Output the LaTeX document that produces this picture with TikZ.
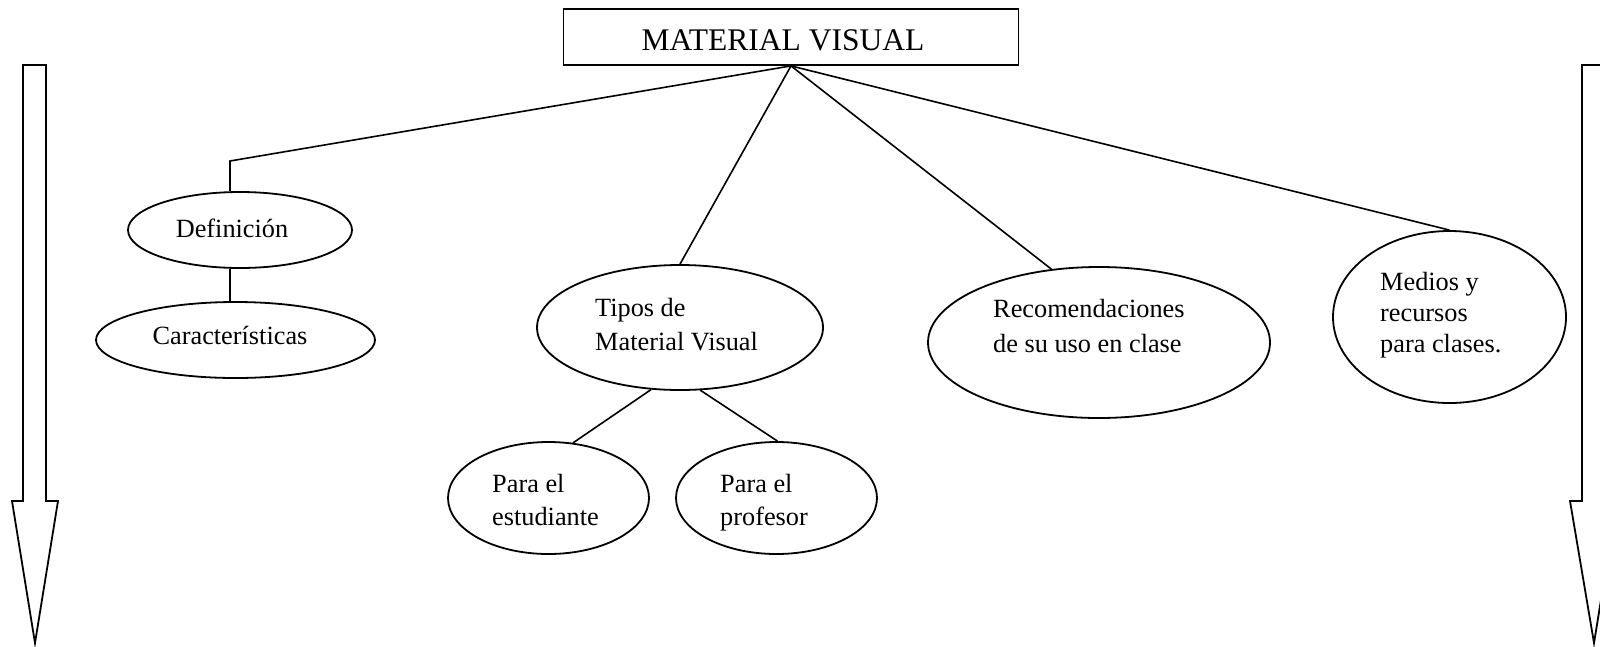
\documentclass[tikz,border=0pt]{standalone}
\usepackage{fontspec}
\setmainfont{Liberation Serif}
\usetikzlibrary{shapes.geometric}
\begin{document}
\begin{tikzpicture}[x=1pt,y=-1pt,
  lw/.style={line width=1.8pt},
  oval/.style={draw,ellipse,line width=1.8pt,inner sep=0pt},
  txt/.style={inner sep=0pt,align=left,font=\fontsize{26.3}{33}\selectfont},
  conn/.style={line width=1.6pt}]
\useasboundingbox (0,0) rectangle (1600,646);
\clip (0,0) rectangle (1600,646);
% title
\node[draw,lw,minimum width=455pt,minimum height=56pt,inner sep=0pt] (title) at (791,37) {};
\node[anchor=base,inner sep=0pt,font=\fontsize{31.5}{36}\selectfont] (ttitle) at (783,50) {MATERIAL VISUAL};
% ellipses
\node[oval,minimum width=224pt,minimum height=76pt] (def) at (240,230) {};
\node[oval,minimum width=279pt,minimum height=76pt] (car) at (235.5,340) {};
\node[oval,minimum width=286pt,minimum height=125pt] (tipos) at (680,327.5) {};
\node[oval,minimum width=201pt,minimum height=112pt] (est) at (548.5,498) {};
\node[oval,minimum width=201pt,minimum height=112pt] (prof) at (776.5,498) {};
\node[oval,minimum width=342pt,minimum height=151pt] (reco) at (1099,342.5) {};
\node[oval,minimum width=233pt,minimum height=172pt] (med) at (1449.5,317) {};
% texts (base anchor = baseline of last line)
\node[txt,anchor=base] (tdef) at (232,237) {Definición};
\node[txt,anchor=base] (tcar) at (230,344) {Características};
\node[txt,anchor=base west,font=\fontsize{26.3}{34}\selectfont] (ttip) at (595,350) {Tipos de\\Material Visual};
\node[txt,anchor=base west] (test) at (492,525) {Para el\\estudiante};
\node[txt,anchor=base west] (tprof) at (720,525) {Para el\\profesor};
\node[txt,anchor=base west,font=\fontsize{26.3}{35}\selectfont] (treco) at (993,352) {Recomendaciones\\de su uso en clase};
\node[txt,anchor=base west,font=\fontsize{26.3}{31}\selectfont] (tmed) at (1380,352) {Medios y\\recursos\\para clases.};
% connectors
\coordinate (cdef) at (230,161);
\draw[conn] (title.south) -- (cdef) -- (def.north -| cdef);
\draw[conn] (def.south -| cdef) -- (car.north -| cdef);
\draw[conn] (title.south) -- (tipos.north);
\draw[conn] (title.south) -- (reco.123.5);
\draw[conn] (title.south) -- (med.north);
\draw[conn] (tipos.245.5) -- (est.66);
\draw[conn] (tipos.288) -- (prof.89);
% block arrows
\draw[lw] (23,65) -- (46,65) -- (46,501) -- (58,501) -- (35,643) -- (12,501) -- (23,501) -- cycle;
\draw[lw] (1582,65) -- (1605,65) -- (1605,501) -- (1617,501) -- (1594,643) -- (1570,501) -- (1582,501) -- cycle;
\end{tikzpicture}
\end{document}
